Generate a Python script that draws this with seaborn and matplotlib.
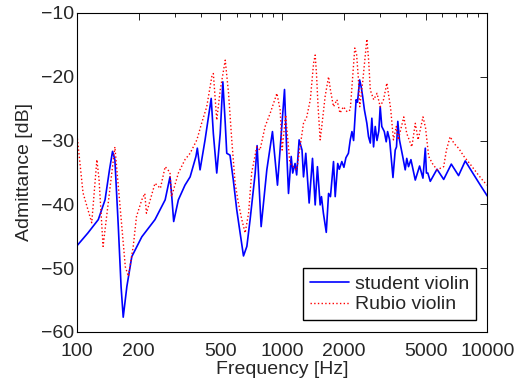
import numpy as np
import pandas as pd
import matplotlib
matplotlib.use("Agg")
import matplotlib.pyplot as plt
import seaborn as sns
from matplotlib.ticker import LogLocator, NullFormatter

# student violin admittance
student_freq = [100, 113, 127, 137, 144, 149, 153, 159, 164, 168, 175, 185, 207, 240, 269,
                284, 289, 296, 312, 336, 356, 380, 386, 398, 421, 451, 462, 480, 499, 514,
                528, 537, 557, 578, 601, 624, 648, 673, 698, 739, 755, 790, 842, 897, 949,
                1027, 1055, 1074, 1107, 1126, 1156, 1177, 1210, 1250, 1271, 1304, 1354, 1406,
                1449, 1486, 1532, 1555, 1589, 1641, 1684, 1720, 1780, 1814, 1866, 1900, 1954,
                2000, 2046, 2104, 2148, 2189, 2230, 2294, 2330, 2387, 2429, 2469, 2518, 2588,
                2637, 2690, 2737, 2790, 2843, 2900, 2960, 3006, 3060, 3148, 3216, 3266, 3342,
                3469, 3558, 3610, 3663, 3731, 3870, 3981, 4050, 4131, 4244, 4456, 4677, 4857,
                4987, 5050, 5130, 5273, 5687, 6130, 6677, 7244, 7810, 8420, 9250, 10000]
student_db = [-46.5, -44.5, -42.4, -39.3, -34.6, -31.7, -33.0, -43.5, -52.9, -57.7, -52.9, -48.2,
              -45.1, -42.4, -39.3, -35.7, -38.3, -42.7, -39.3, -37.0, -35.7, -32.5, -31.2, -34.6,
              -29.9, -23.4, -28.9, -35.1, -28.9, -20.8, -27.3, -32.0, -32.3, -36.2, -40.9, -44.5,
              -48.1, -46.6, -42.4, -35.1, -30.8, -43.5, -34.6, -28.6, -37.0, -22.0, -32.5, -38.3,
              -32.5, -35.1, -33.6, -35.4, -29.9, -31.5, -35.7, -32.0, -39.8, -32.8, -40.1, -34.1,
              -40.1, -38.8, -41.4, -44.4, -38.3, -38.8, -33.3, -38.8, -33.6, -34.5, -33.3, -34.2,
              -32.7, -32.0, -29.9, -28.6, -30.0, -23.6, -24.0, -20.5, -21.6, -23.1, -25.2, -27.3,
              -29.4, -30.4, -26.5, -31.0, -27.8, -30.0, -28.5, -24.7, -27.8, -28.6, -30.2, -28.6,
              -29.9, -35.8, -31.5, -31.0, -27.0, -29.9, -32.5, -34.6, -32.8, -34.1, -33.0, -36.2,
              -34.0, -35.9, -31.2, -35.1, -35.1, -36.4, -34.5, -36.1, -33.7, -35.5, -33.2, -34.9,
              -37.0, -38.7]

# Rubio violin admittance
rubio_freq = [100, 107, 118, 125, 128, 134, 153, 172, 178, 188, 195, 207, 214, 218, 240, 255,
              269, 284, 289, 312, 336, 356, 384, 405, 429, 454, 462, 480, 499, 528, 548, 568,
              590, 612, 636, 660, 686, 710, 752, 780, 826, 875, 943, 978, 1000, 1040, 1091,
              1178, 1223, 1271, 1318, 1372, 1423, 1449, 1470, 1497, 1532, 1560, 1620, 1684,
              1720, 1780, 1850, 1914, 1990, 2073, 2148, 2260, 2306, 2350, 2389, 2470, 2588,
              2640, 2690, 2795, 2900, 3006, 3120, 3240, 3380, 3488, 3600, 3680, 3917, 4050,
              4288, 4457, 4600, 4859, 5000, 5180, 5400, 5687, 6130, 6320, 6589, 6900, 7244,
              7700, 8296, 8900, 9585, 10000]
rubio_db = [-29.1, -38.2, -42.9, -33.0, -36.0, -46.6, -31.0, -49.8, -51.3, -46.6, -41.9, -39.3,
            -38.3, -41.4, -36.7, -37.5, -34.1, -35.0, -38.8, -35.1, -33.0, -32.0, -29.9, -27.3,
            -24.7, -20.0, -19.5, -26.8, -22.1, -17.4, -22.6, -29.9, -36.7, -39.8, -42.4, -44.5,
            -41.4, -35.1, -31.0, -31.5, -27.8, -25.7, -22.6, -25.2, -31.5, -26.0, -33.6, -34.6,
            -31.0, -27.3, -26.3, -23.6, -17.9, -16.6, -19.5, -24.7, -29.9, -27.8, -23.1, -20.0,
            -22.1, -24.7, -23.6, -25.7, -24.7, -25.5, -25.2, -15.5, -16.5, -20.0, -24.7, -20.8,
            -14.1, -17.4, -22.1, -23.6, -22.6, -24.7, -23.6, -21.0, -25.0, -29.9, -27.8, -29.9,
            -26.3, -28.9, -31.0, -27.3, -29.9, -26.3, -28.0, -32.5, -33.6, -34.6, -34.1, -31.5,
            -29.4, -30.5, -31.2, -32.5, -33.8, -35.1, -36.4, -37.0]

xtick_vals = [100, 200, 500, 1000, 2000, 5000, 10000]

sns.set_style("white")
plt.rcParams["font.family"] = ["Liberation Sans", "DejaVu Sans"]

fig = plt.figure(figsize=(5.22, 3.81), dpi=100)
ax = fig.add_axes([0.1475, 0.129, 0.786, 0.837])

sns.lineplot(x=student_freq, y=student_db, color="#0000ff", lw=1.2,
             label="student violin", ax=ax)
sns.lineplot(x=rubio_freq, y=rubio_db, color="#ff0000", lw=1.0, linestyle=":",
             label="Rubio violin", ax=ax)

ax.set_xscale("log")
ax.set_xlim(100, 10000)
ax.set_ylim(-60, -10)
ax.set_xticks(xtick_vals)
ax.set_xticklabels([str(v) for v in xtick_vals])
ax.xaxis.set_minor_locator(LogLocator(base=10, subs=range(2, 10)))
ax.xaxis.set_minor_formatter(NullFormatter())
ax.set_yticks(range(-60, 0, 10))

ax.tick_params(which="both", direction="in", top=True, right=True, labelsize=14,
               color="black", width=0.6)
ax.tick_params(which="major", length=5)
ax.tick_params(which="minor", length=3)
ax.tick_params(axis="x", which="major", pad=8)
ax.tick_params(axis="y", which="major", pad=2)
for sp in ax.spines.values():
    sp.set_color("black")
    sp.set_linewidth(0.8)

ax.set_xlabel("Frequency [Hz]", fontsize=14, labelpad=1)
ax.set_ylabel("Admittance [dB]", fontsize=14, labelpad=6)

ax.legend(loc="lower right", frameon=True, fancybox=False, edgecolor="black",
          framealpha=1, fontsize=14, handlelength=2.0, borderpad=0.35,
          labelspacing=0.15, borderaxespad=0.6, handletextpad=0.3)

fig.savefig("out.png", dpi=100)
